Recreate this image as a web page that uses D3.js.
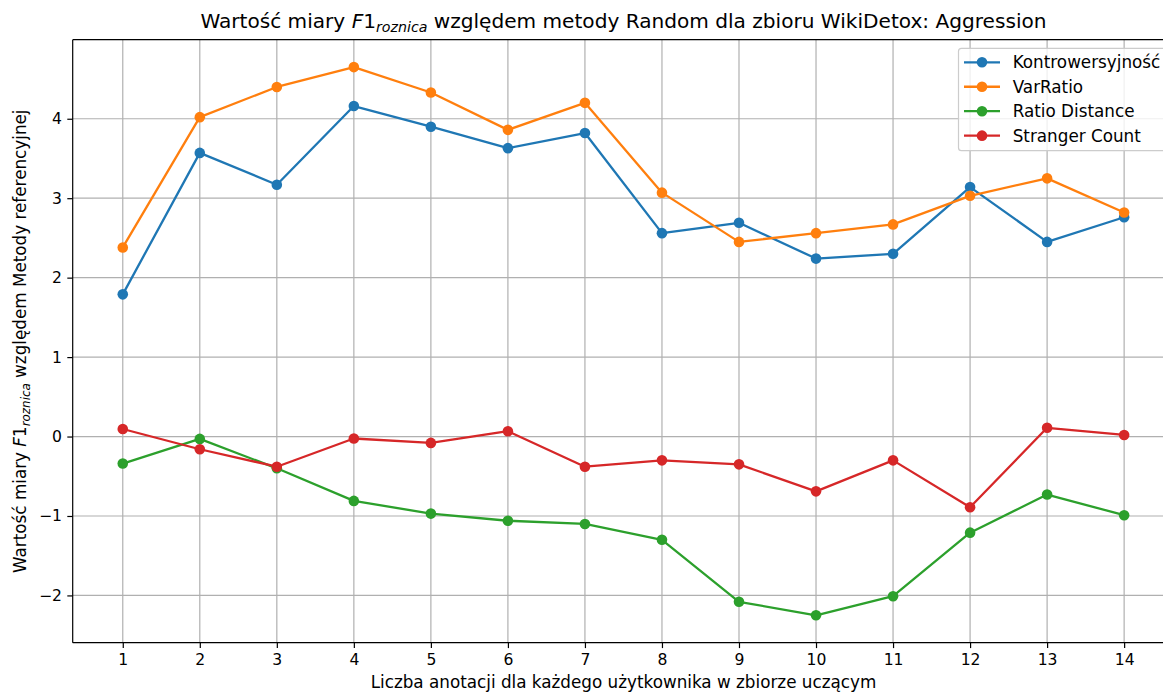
<!DOCTYPE html>
<html>
<head>
<meta charset="utf-8">
<script src="https://cdn.jsdelivr.net/npm/d3@7"></script>
<style>
  body { margin: 0; background: #fff; }
  svg { display: block; font-family: "DejaVu Sans", sans-serif; }
</style>
</head>
<body>
<div id="chart"></div>
<script>
// Values
const annotations = [1, 2, 3, 4, 5, 6, 7, 8, 9, 10, 11, 12, 13, 14];
const kontrowersyjnosc = [1.79, 3.57, 3.17, 4.16, 3.90, 3.63, 3.82, 2.56, 2.69, 2.24, 2.30, 3.14, 2.45, 2.76];
const varRatio = [2.38, 4.02, 4.40, 4.65, 4.33, 3.86, 4.20, 3.07, 2.45, 2.56, 2.67, 3.03, 3.25, 2.82];
const ratioDistance = [-0.34, -0.03, -0.40, -0.81, -0.97, -1.06, -1.10, -1.30, -2.08, -2.25, -2.01, -1.21, -0.73, -0.99];
const strangerCount = [0.095, -0.16, -0.38, -0.025, -0.08, 0.067, -0.38, -0.30, -0.35, -0.69, -0.30, -0.89, 0.11, 0.02];
const seriesNames = ["Kontrowersyjność", "VarRatio", "Ratio Distance", "Stranger Count"];
const seriesColors = ["#1f77b4", "#ff7f0e", "#2ca02c", "#d62728"];
const yTicks = [-2, -1, 0, 1, 2, 3, 4];

const series = [kontrowersyjnosc, varRatio, ratioDistance, strangerCount].map((vals, i) => ({
    name: seriesNames[i],
    color: seriesColors[i],
    values: vals.map((v, j) => ({ x: annotations[j], y: v }))
}));

// Figure and axes box (right edge falls outside the picture, as in the original)
const W = 1163, H = 693;
const box = { left: 72.7, top: 39.7, right: 1174.2, bottom: 642.7 };

const svg = d3.select("#chart").append("svg")
    .attr("width", W)
    .attr("height", H);

// matplotlib-like 5% margins
const xExt = d3.extent(annotations);
const xPad = (xExt[1] - xExt[0]) * 0.05;
const allY = series.flatMap(s => s.values.map(d => d.y));
const yExt = d3.extent(allY);
const yPad = (yExt[1] - yExt[0]) * 0.05;

const x = d3.scaleLinear().domain([xExt[0] - xPad, xExt[1] + xPad]).range([box.left, box.right]);
const y = d3.scaleLinear().domain([yExt[0] - yPad, yExt[1] + yPad]).range([box.bottom, box.top]);

// Grid
const grid = svg.append("g").attr("stroke", "#b0b0b0").attr("stroke-width", 1.2);
grid.selectAll(".vg").data(annotations).enter().append("line")
    .attr("x1", d => x(d)).attr("x2", d => x(d))
    .attr("y1", box.top).attr("y2", box.bottom);
grid.selectAll(".hg").data(yTicks).enter().append("line")
    .attr("x1", box.left).attr("x2", box.right)
    .attr("y1", d => y(d)).attr("y2", d => y(d));

// Axes
const xAxis = svg.append("g")
    .attr("transform", `translate(0,${box.bottom})`)
    .call(d3.axisBottom(x).tickValues(annotations).tickFormat(d3.format("d")).tickSize(5.4).tickPadding(5.4));
const yAxis = svg.append("g")
    .attr("transform", `translate(${box.left},0)`)
    .call(d3.axisLeft(y).tickValues(yTicks).tickFormat(d3.format("d")).tickSize(5.4).tickPadding(5.4));

[xAxis, yAxis].forEach(a => {
    a.select(".domain").remove();
    a.selectAll(".tick line").attr("stroke", "#000").attr("stroke-width", 1.2);
    a.selectAll(".tick text").attr("fill", "#000").attr("font-size", 15.6)
        .attr("font-family", "DejaVu Sans");
});

// Lines and markers
const line = d3.line().x(d => x(d.x)).y(d => y(d.y));
const plot = svg.append("g");
series.forEach(s => {
    plot.append("path")
        .datum(s.values)
        .attr("fill", "none")
        .attr("stroke", s.color)
        .attr("stroke-width", 2.3)
        .attr("stroke-linejoin", "round")
        .attr("d", line);
    plot.selectAll(null).data(s.values).enter().append("circle")
        .attr("cx", d => x(d.x))
        .attr("cy", d => y(d.y))
        .attr("r", 5.3)
        .attr("fill", s.color);
});

// Spines (left, top, bottom)
const spines = svg.append("g").attr("stroke", "#000").attr("stroke-width", 1.2).attr("fill", "none");
spines.append("line").attr("x1", box.left).attr("x2", box.left).attr("y1", box.top).attr("y2", box.bottom);
spines.append("line").attr("x1", box.left).attr("x2", box.right).attr("y1", box.top).attr("y2", box.top);
spines.append("line").attr("x1", box.left).attr("x2", box.right).attr("y1", box.bottom).attr("y2", box.bottom);

const cx = (box.left + box.right) / 2;

// Title with mathtext-like F1_roznica
const title = svg.append("text")
    .attr("x", cx).attr("y", 28)
    .attr("text-anchor", "middle")
    .attr("font-size", 20.1)
    .attr("fill", "#000");
title.append("tspan").text("Wartość miary ");
title.append("tspan").attr("font-style", "italic").text("F");
title.append("tspan").text("1");
title.append("tspan").attr("font-style", "italic").attr("font-size", 14.2).attr("dy", 4.4).text("roznica");
title.append("tspan").attr("dy", -4.4).text(" względem metody Random dla zbioru WikiDetox: Aggression");

// X label
svg.append("text")
    .attr("x", cx).attr("y", 688)
    .attr("text-anchor", "middle")
    .attr("font-size", 16.8)
    .attr("fill", "#000")
    .text("Liczba anotacji dla każdego użytkownika w zbiorze uczącym");

// Y label
const yl = svg.append("text")
    .attr("transform", `translate(26,${(box.top + box.bottom) / 2}) rotate(-90)`)
    .attr("text-anchor", "middle")
    .attr("font-size", 16.8)
    .attr("fill", "#000");
yl.append("tspan").text("Wartość miary ");
yl.append("tspan").attr("font-style", "italic").text("F");
yl.append("tspan").text("1");
yl.append("tspan").attr("font-style", "italic").attr("font-size", 11.9).attr("dy", 3.8).text("roznica");
yl.append("tspan").attr("dy", -3.8).text(" względem Metody referencyjnej");

// Legend
const legend = svg.append("g");
legend.append("rect")
    .attr("x", 958.5).attr("y", 48.3)
    .attr("width", 240).attr("height", 102.4)
    .attr("rx", 3).attr("ry", 3)
    .attr("fill", "#fff").attr("fill-opacity", 0.8)
    .attr("stroke", "#cccccc").attr("stroke-width", 1.2);
const rows = legend.selectAll(".row").data(series).enter().append("g")
    .attr("transform", (d, i) => `translate(0,${62.3 + i * 24.45})`);
rows.append("line")
    .attr("x1", 964).attr("x2", 1000).attr("y1", 0).attr("y2", 0)
    .attr("stroke", d => d.color).attr("stroke-width", 2.3);
rows.append("circle")
    .attr("cx", 982).attr("cy", 0).attr("r", 5.3)
    .attr("fill", d => d.color);
rows.append("text")
    .attr("x", 1012.7).attr("y", 0).attr("dy", "0.35em")
    .attr("font-size", 16.8).attr("fill", "#000")
    .text(d => d.name);
</script>
</body>
</html>
